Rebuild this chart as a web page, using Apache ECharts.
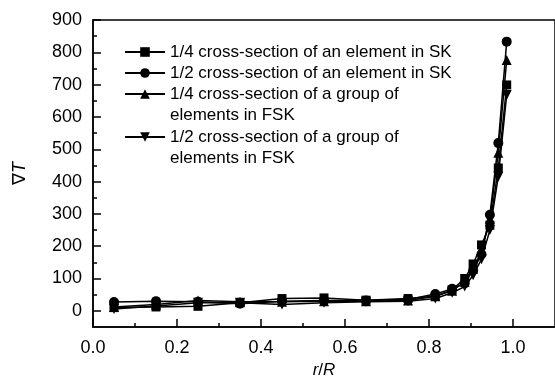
<!DOCTYPE html>
<html>
<head>
<meta charset="utf-8">
<script src="https://cdn.jsdelivr.net/npm/echarts@6/dist/echarts.min.js"></script>
<style>html,body{margin:0;padding:0;background:#fff}#chart{width:555px;height:391px}</style>
</head>
<body>
<div id="chart"></div>
<script>
// r/R positions of the sample points
var rR = [0.05, 0.15, 0.25, 0.35, 0.45, 0.55, 0.65, 0.75, 0.815, 0.855, 0.885, 0.905, 0.925, 0.945, 0.965, 0.985];
var skQuarter  = [10, 12, 14, 25, 38, 40, 33, 38, 45, 65, 100, 145, 204, 265, 442, 699];
var skHalf     = [27, 30, 28, 22, 30, 32, 32, 35, 52, 68, 85, 125, 175, 297, 519, 833];
var fskQuarter = [12, 20, 32, 28, 28, 30, 30, 32, 45, 62, 90, 130, 185, 285, 489, 776];
var fskHalf    = [6, 15, 25, 25, 20, 25, 28, 30, 38, 56, 75, 110, 160, 250, 415, 668];
var names = [
  '1/4 cross-section of an element in SK',
  '1/2 cross-section of an element in SK',
  '1/4 cross-section of a group of\nelements in FSK',
  '1/2 cross-section of a group of\nelements in FSK'
];
var yTicks = [0, 100, 200, 300, 400, 500, 600, 700, 800, 900];
var yMinor = [50, 150, 250, 350, 450, 550, 650, 750, 850];
var xTicks = [0, 0.2, 0.4, 0.6, 0.8, 1.0];
var xMinor = [0.1, 0.3, 0.5, 0.7, 0.9];

var font = '"Liberation Sans", Arial, sans-serif';
function pairs(v){ return rR.map(function(x,i){ return [x, v[i]]; }); }

var myChart = echarts.init(document.getElementById('chart'), null, {renderer:'canvas'});
var legendTops = [41.5, 62.5, 62.5, 105.5];
var option = {
  backgroundColor: '#fff',
  animation: false,
  grid: {left: 93, top: 20, bottom: 64, right: -5.5, show: true, borderColor: '#000', borderWidth: 1.5},
  legend: names.map(function(n, i){
    var two = n.indexOf('\n') >= 0;
    return {
      data: [n],
      left: 124, top: legendTops[i], padding: 0,
      itemWidth: 40, itemHeight: 12,
      selectedMode: false,
      // blank first line keeps the marker level with the first text line
      formatter: two ? function(s){ return ' \n' + s; } : '{name}',
      textStyle: {fontSize: 17, lineHeight: 21, color: '#000', fontFamily: font}
    };
  }),
  xAxis: [{
    type: 'value', min: 0, max: 1.1,
    name: '{i|r}/{i|R}', nameLocation: 'middle', nameGap: 31,
    nameTextStyle: {fontSize: 17, color: '#000', fontFamily: font, rich: {i: {fontStyle: 'italic', fontSize: 17, fontFamily: font}}},
    axisLine: {onZero: false, lineStyle: {color: '#000', width: 1.5}},
    axisTick: {inside: true, length: 8, customValues: xTicks, lineStyle: {color: '#000', width: 1.5}},
    axisLabel: {customValues: xTicks, fontSize: 18, color: '#000', fontFamily: font, margin: 12,
      formatter: function(v){ return v.toFixed(1); }},
    splitLine: {show: false}
  }, {
    type: 'value', min: 0, max: 1.1, position: 'bottom',
    axisLine: {show: false, onZero: false},
    axisTick: {inside: true, length: 4, customValues: xMinor, lineStyle: {color: '#000', width: 1.5}},
    axisLabel: {show: false}, splitLine: {show: false}
  }],
  yAxis: [{
    type: 'value', min: -50, max: 900,
    name: '{n|∇}{i|T}', nameLocation: 'middle', nameGap: 64,
    nameTextStyle: {fontSize: 18, color: '#000', fontFamily: font, rich: {n: {fontSize: 18, fontFamily: font}, i: {fontStyle: 'italic', fontSize: 18, fontFamily: font}}},
    axisLine: {onZero: false, lineStyle: {color: '#000', width: 1.5}},
    axisTick: {inside: true, length: 8, customValues: yTicks, lineStyle: {color: '#000', width: 1.5}},
    axisLabel: {customValues: yTicks, fontSize: 18, color: '#000', fontFamily: font, margin: 11},
    splitLine: {show: false}
  }, {
    type: 'value', min: -50, max: 900, position: 'left', offset: 0,
    axisLine: {show: false, onZero: false},
    axisTick: {inside: true, length: 4, customValues: yMinor, lineStyle: {color: '#000', width: 1.5}},
    axisLabel: {show: false}, splitLine: {show: false}
  }],
  series: [
    {name: names[0], type: 'line', data: pairs(skQuarter), symbol: 'rect', symbolSize: 9},
    {name: names[1], type: 'line', data: pairs(skHalf), symbol: 'circle', symbolSize: 10},
    {name: names[2], type: 'line', data: pairs(fskQuarter), symbol: 'triangle', symbolSize: 10},
    {name: names[3], type: 'line', data: pairs(fskHalf), symbol: 'triangle', symbolRotate: 180, symbolSize: 10}
  ].map(function(s){
    s.itemStyle = {color: '#000'};
    s.lineStyle = {color: '#000', width: 1.5};
    s.showSymbol = true;
    return s;
  })
};
myChart.setOption(option);
</script>
</body>
</html>
